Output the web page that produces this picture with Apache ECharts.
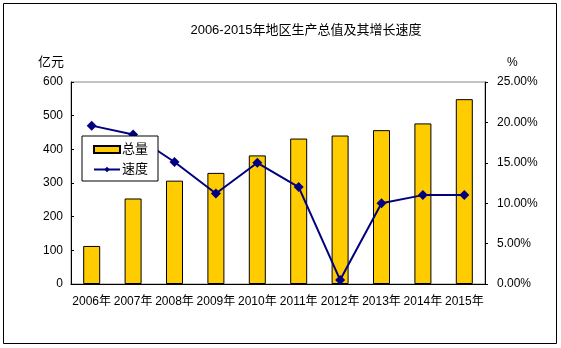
<!DOCTYPE html>
<html><head><meta charset="utf-8">
<script src="https://cdn.jsdelivr.net/npm/echarts@6/dist/echarts.min.js"></script>
<style>html,body{margin:0;padding:0;background:#fff}#c{width:561px;height:348px;}</style>
</head><body><div id="c"></div>
<script>
var categories = ['2006年','2007年','2008年','2009年','2010年','2011年','2012年','2013年','2014年','2015年'];
var totalValues = [113, 254, 307, 330, 382, 432, 441, 457, 477, 549];
var speedValues = [19.6, 18.5, 15.1, 11.2, 15.0, 12.0, 0.5, 10.0, 11.0, 11.0];
var leftTicks = [0, 100, 200, 300, 400, 500, 600];
var rightTicks = [0, 5, 10, 15, 20, 25];

var FONT = '"Liberation Sans", Arial, "Noto Sans CJK SC", sans-serif';
var chart = echarts.init(document.getElementById('c'));
chart.setOption({
  animation: false,
  backgroundColor: '#fff',
  graphic: [{type:'rect', shape:{x:3.5,y:3.5,width:553,height:340}, style:{fill:'none',stroke:'#000',lineWidth:1}, z:-1}],
  title: {text: '2006-2015年地区生产总值及其增长速度', left: 301, top: 19, textAlign: 'center',
    textStyle: {fontSize: 13, fontWeight: 'normal', color: '#000', fontFamily: FONT}},
  grid: {left: 71, right: 76, top: 82, bottom: 64, show: true, borderColor: '#888', borderWidth: 1},
  legend: {orient: 'vertical', left: 82, top: 136, width: 80, height: 41,
    padding: [7, 10, 5, 11], itemGap: 7, itemWidth: 26, itemHeight: 7,
    borderColor: '#000', borderWidth: 1, backgroundColor: '#fff',
    textStyle: {fontSize: 13, color: '#000', fontFamily: FONT, padding:[0,0,0,-3]},
    data: [{name: '总量', icon: 'rect'}, {name: '速度'}]},
  xAxis: {type: 'category', data: categories,
    axisLine: {lineStyle: {color: '#000'}},
    axisTick: {inside: true, length: 3, lineStyle: {color: '#000'}},
    axisLabel: {color: '#000', fontSize: 12, fontFamily: FONT, margin: 12, interval: 0}},
  yAxis: [
    {type: 'value', min: 0, max: 600, interval: 100, name: '亿元', nameLocation: 'end', nameGap: 13,
     nameTextStyle: {color:'#000', fontSize: 13, fontFamily: FONT, align: 'right', padding: [0, 7, 0, 0]},
     axisLine: {show: true, lineStyle: {color: '#000'}},
     axisTick: {show: true, inside: true, length: 3, lineStyle: {color: '#000'}},
     splitLine: {show: false},
     axisLabel: {color: '#000', fontSize: 12, fontFamily: FONT, margin: 8}},
    {type: 'value', min: 0, max: 25, interval: 5, name: '%', nameLocation: 'end', nameGap: 13,
     nameTextStyle: {color:'#000', fontSize: 12, fontFamily: FONT, align: 'left', padding: [0, 0, 0, 22]},
     axisLine: {show: true, lineStyle: {color: '#000'}},
     axisTick: {show: true, inside: false, length: 3, lineStyle: {color: '#000'}},
     splitLine: {show: false},
     axisLabel: {color: '#000', fontSize: 12, fontFamily: FONT, margin: 12,
       formatter: function(v){ return v.toFixed(2) + '%'; }}}
  ],
  series: [
    {name: '总量', type: 'bar', data: totalValues, barWidth: 17,
     itemStyle: {color: '#FFCC00', borderColor: '#000', borderWidth: 1}},
    {name: '速度', type: 'line', yAxisIndex: 1, data: speedValues,
     symbol: 'diamond', symbolSize: 10, lineStyle: {color: '#000080', width: 2},
     itemStyle: {color: '#000080'}}
  ]
});
</script></body></html>
